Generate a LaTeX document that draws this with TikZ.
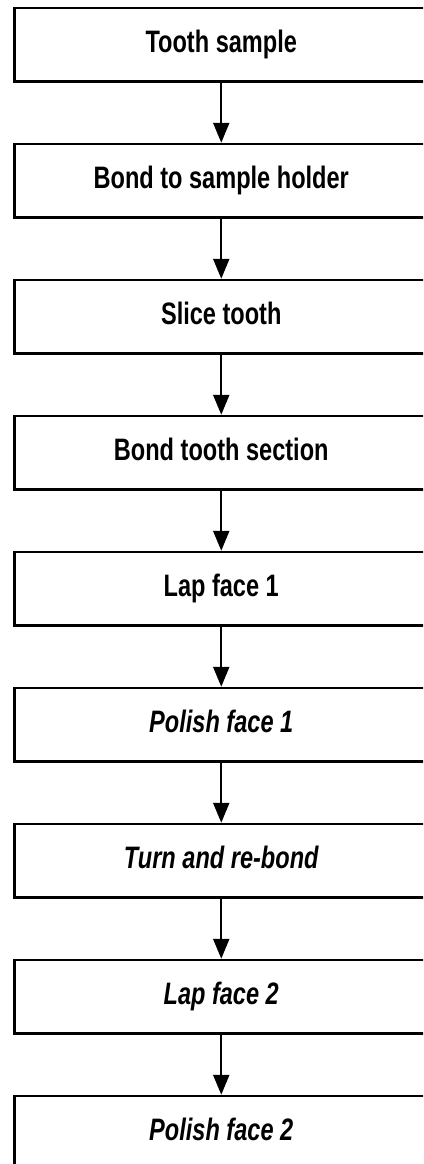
\documentclass[tikz,border=0pt]{standalone}
\usepackage{fontspec}
\setmainfont{Liberation Sans}
\usetikzlibrary{arrows.meta}
\tikzset{
  stepbox/.style={draw=black, line width=2.5pt, rectangle, minimum width=413.5pt,
    minimum height=73.5pt, inner sep=0pt, text height=22pt, text depth=6pt,
    font=\fontsize{31}{36}\selectfont\bfseries},
  flow/.style={draw=black, line width=2.3pt, -{Triangle[length=20pt,width=16pt]}}
}
\newcommand{\nar}[1]{\scalebox{0.76}[1]{#1}}
\begin{document}
\begin{tikzpicture}[x=1pt,y=1pt]
\useasboundingbox (0,0) rectangle (423,-1164);
\clip (0,0) rectangle (423,-1164);
\fill[white] (0,0) rectangle (423,-1164);
\node[stepbox] (b1) at (221.25,-44.75) {\nar{Tooth sample}};
\node[stepbox] (b2) at (221.25,-180.75) {\nar{Bond to sample holder}};
\node[stepbox] (b3) at (221.25,-316.75) {\nar{Slice tooth}};
\node[stepbox] (b4) at (221.25,-452.75) {\nar{Bond tooth section}};
\node[stepbox] (b5) at (221.25,-588.75) {\nar{Lap face 1}};
\node[stepbox] (b6) at (221.25,-724.75) {\nar{\itshape Polish face 1}};
\node[stepbox] (b7) at (221.25,-860.75) {\nar{\itshape Turn and re-bond}};
\node[stepbox] (b8) at (221.25,-996.75) {\nar{\itshape Lap face 2}};
\node[stepbox] (b9) at (221.25,-1132.75) {\nar{\itshape Polish face 2}};
\foreach \a/\b in {b1/b2,b2/b3,b3/b4,b4/b5,b5/b6,b6/b7,b7/b8,b8/b9}
  \draw[flow] (\a.south) -- (\b.north);
\end{tikzpicture}
\end{document}
